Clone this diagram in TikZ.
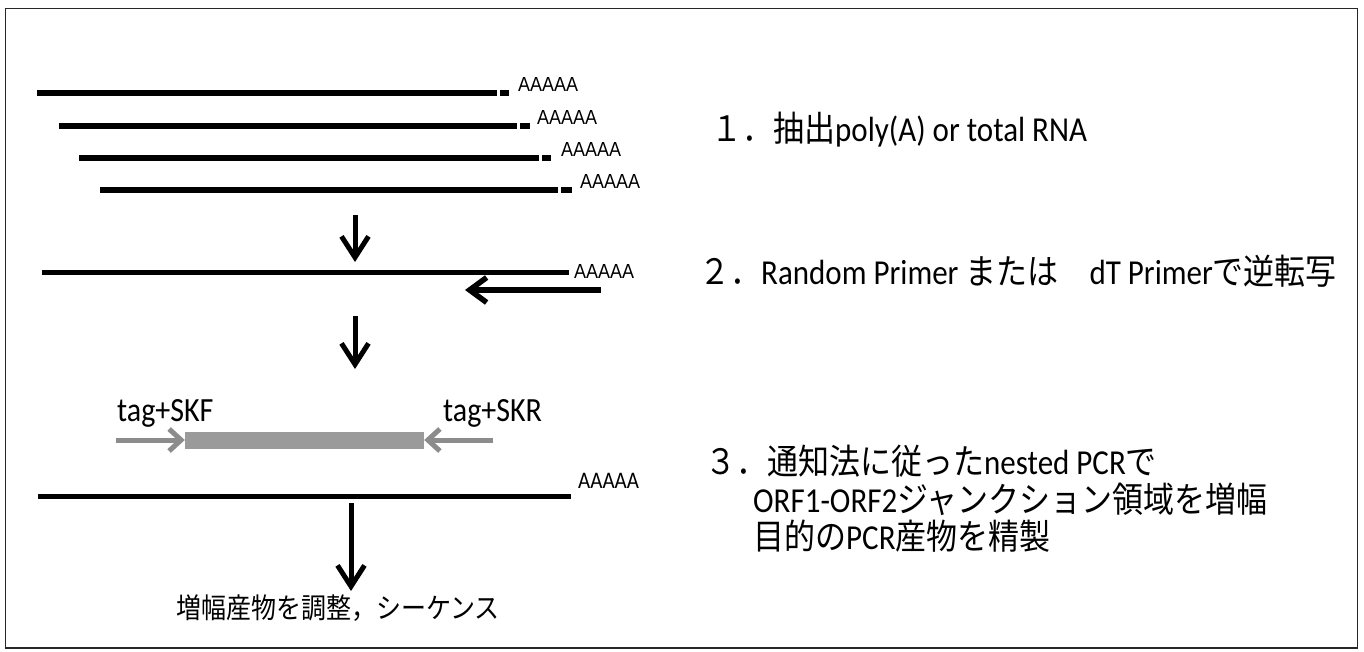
\documentclass[tikz,border=0pt]{standalone}
\usepackage{graphicx}
\usepackage{fontspec}
\setmainfont{Carlito}
\newfontfamily\jp{Noto Sans CJK JP}
\newfontfamily\arialf{Liberation Sans}
\usetikzlibrary{arrows.meta}
\definecolor{boxgray}{HTML}{9A9A9A}
\definecolor{arrgray}{HTML}{8C8C8C}
\newcommand{\tallt}[1]{\scalebox{1}[1.13]{#1}}
\begin{document}
\begin{tikzpicture}[x=1pt,y=-1pt,
  rna/.style={line width=5.5pt},
  dna/.style={line width=5pt},
  polya/.style={font=\arialf\fontsize{18}{18}\selectfont, anchor=base west, inner sep=0pt},
  polyb/.style={font=\fontsize{21}{21}\selectfont, anchor=base west, inner sep=0pt},
  downarrow/.style={line width=5pt, -{Straight Barb[length=21pt,width=27pt]}},
  revarrow/.style={line width=5.5pt, -{Straight Barb[length=17pt,width=25pt]}},
  primerarrow/.style={line width=5pt, arrgray, -{Straight Barb[length=12pt,width=22pt]}},
  steptext/.style={font=\fontsize{31}{37}\selectfont, anchor=base west, inner sep=0pt},
  tagtext/.style={font=\fontsize{30}{36}\selectfont, anchor=base west, inner sep=0pt},
  restext/.style={font=\jp\fontsize{25}{30}\selectfont, anchor=base west, inner sep=0pt},
  frame/.style={line width=1.5pt, draw=black!85}
]
\useasboundingbox (0,0) rectangle (1364,652);
\draw[frame] (5.5,8.5) rectangle (1357.5,648);

% --- step 1: RNA molecules ---
\coordinate (r1a) at (37,93);  \coordinate (r1b) at (497,93);
\coordinate (d1a) at (500,93); \coordinate (d1b) at (509,93);
\coordinate (r2a) at (59,126);  \coordinate (r2b) at (517,126);
\coordinate (d2a) at (520,126); \coordinate (d2b) at (530,126);
\coordinate (r3a) at (79,158); \coordinate (r3b) at (539,158);
\coordinate (d3a) at (542,158);\coordinate (d3b) at (551,158);
\coordinate (r4a) at (100,190);\coordinate (r4b) at (558,190);
\coordinate (d4a) at (561,190);\coordinate (d4b) at (572,190);
\draw[rna] (r1a) -- (r1b); \draw[rna] (d1a) -- (d1b);
\draw[rna] (r2a) -- (r2b); \draw[rna] (d2a) -- (d2b);
\draw[rna] (r3a) -- (r3b); \draw[rna] (d3a) -- (d3b);
\draw[rna] (r4a) -- (r4b); \draw[rna] (d4a) -- (d4b);
\node[polya] (pa1) at (518,92) {\tallt{AAAAA}};
\node[polya] (pa2) at (537,125) {\tallt{AAAAA}};
\node[polya] (pa3) at (561,157) {\tallt{AAAAA}};
\node[polya] (pa4) at (580,189) {\tallt{AAAAA}};

% --- arrow 1 ---
\coordinate (a1s) at (355,215); \coordinate (a1e) at (355,262);
\draw[downarrow] (a1s) -- (a1e);

% --- step 2 ---
\coordinate (l2a) at (42,272); \coordinate (l2b) at (569,272);
\draw[dna] (l2a) -- (l2b);
\node[polya] (pa5) at (574,278) {\tallt{AAAAA}};
\coordinate (rt1) at (601,290); \coordinate (rt2) at (465,290);
\draw[revarrow] (rt1) -- (rt2);

% --- arrow 2 ---
\coordinate (a2s) at (355,316); \coordinate (a2e) at (355,369);
\draw[downarrow] (a2s) -- (a2e);

% --- step 3 ---
\node[tagtext] (skf) at (117,421) {\tallt{tag+SKF}};
\node[tagtext] (skr) at (443,421) {\tallt{tag+SKR}};
\node[fill=boxgray, minimum width=239pt, minimum height=17pt, inner sep=0pt] (prod) at (304.5,440) {};
\coordinate (pf) at (116,440); \coordinate (pr) at (493,440);
\draw[primerarrow] (pf) -- (prod.west);
\draw[primerarrow] (pr) -- (prod.east);
\coordinate (l3a) at (38,496); \coordinate (l3b) at (571,496);
\draw[dna] (l3a) -- (l3b);
\node[polyb] (pa6) at (578,488) {\tallt{AAAAA}};

% --- arrow 3 ---
\coordinate (a3s) at (351,503); \coordinate (a3e) at (351,591);
\draw[downarrow] (a3s) -- (a3e);
\node[restext] (res) at (176,618) {\tallt{増幅産物を調整，シーケンス}};

% --- right-hand step texts ---
\node[steptext] (s1) at (711,142) {\tallt{{\jp １．抽出}poly(A) or total RNA}};
\node[steptext] (s2) at (699,284) {\tallt{{\jp ２．}Random Primer {\jp または　}dT Primer{\jp で逆転写}}};
\node[steptext] (s3a) at (705,474) {\tallt{{\jp ３．通知法に従った}nested PCR{\jp で}}};
\node[steptext] (s3b) at (753,512) {\tallt{ORF1-ORF2{\jp ジャンクション領域を増幅}}};
\node[steptext] (s3c) at (753,549) {\tallt{{\jp 目的の}PCR{\jp 産物を精製}}};
\end{tikzpicture}
\end{document}
